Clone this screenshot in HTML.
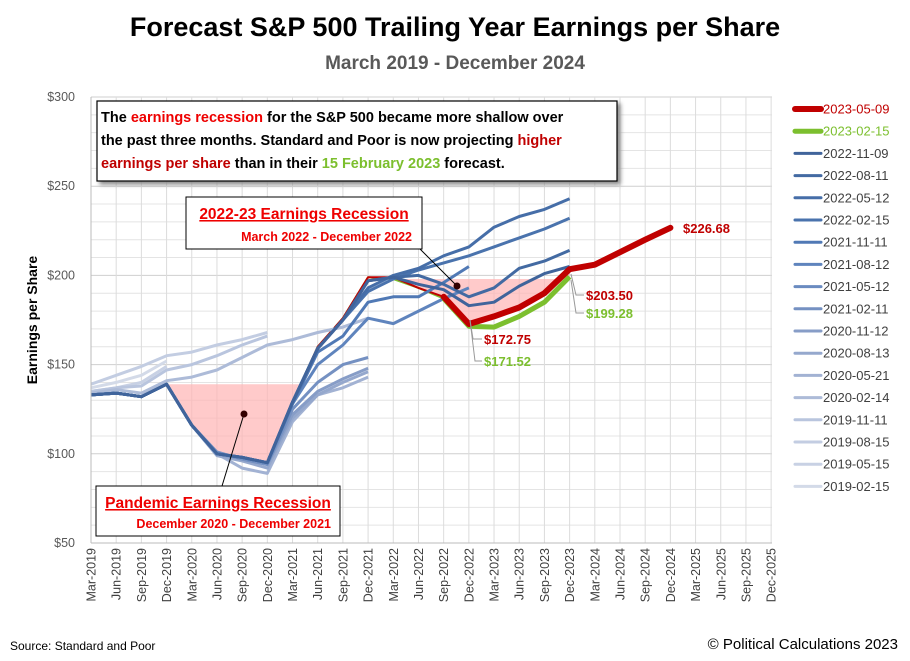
<!DOCTYPE html>
<html><head><meta charset="utf-8"><style>
body{margin:0;background:#fff;font-family:"Liberation Sans",sans-serif;}
#c{position:relative;width:910px;height:661px;overflow:hidden;background:#fff}
.t{position:absolute;white-space:nowrap}
</style></head><body><div id="c">
<div class="t" style="left:0;width:910px;top:12px;text-align:center;font-size:27px;font-weight:bold;color:#000">Forecast S&amp;P 500 Trailing Year Earnings per Share</div>
<div class="t" style="left:0;width:910px;top:53px;text-align:center;font-size:19px;font-weight:bold;color:#595959">March 2019 - December 2024</div>
<svg id="s" width="910" height="661" style="position:absolute;left:0;top:0" xmlns="http://www.w3.org/2000/svg" font-family="Liberation Sans, sans-serif">
<g id="grid"></g>
<g id="shade"></g>
<g id="ser"></g>
<g id="ax"></g>
<text x="37" y="320" font-size="14" font-weight="bold" transform="rotate(-90 37 320)" text-anchor="middle">Earnings per Share</text>
<rect x="97" y="101" width="520" height="80" fill="#fff" stroke="#000" stroke-width="1.2" style="filter:drop-shadow(3px 3px 2px #888)"/>
<text font-size="14.5" font-weight="bold" fill="#000"><tspan x="101" y="122">The <tspan fill="#e00">earnings recession</tspan> for the S&amp;P 500 became more shallow over</tspan><tspan x="101" y="145">the past three months.  Standard and Poor is now projecting <tspan fill="#c00000">higher</tspan></tspan><tspan x="101" y="168"><tspan fill="#c00000">earnings per share</tspan> than in their <tspan fill="#7cbf2e">15 February 2023</tspan> forecast.</tspan></text>
<rect x="186" y="197" width="236" height="52" fill="#fff" stroke="#000" stroke-width="1"/>
<text x="304" y="219" font-size="15.5" font-weight="bold" fill="#e00" text-anchor="middle" text-decoration="underline">2022-23 Earnings Recession</text>
<text x="412" y="241" font-size="12.5" font-weight="bold" fill="#e00" text-anchor="end">March 2022 - December 2022</text>
<rect x="96" y="486" width="244" height="50" fill="#fff" stroke="#000" stroke-width="1"/>
<text x="218" y="508" font-size="15.5" font-weight="bold" fill="#e00" text-anchor="middle" text-decoration="underline">Pandemic Earnings Recession</text>
<text x="331" y="528" font-size="12.5" font-weight="bold" fill="#e00" text-anchor="end">December 2020 - December 2021</text>
<line x1="420" y1="249" x2="457" y2="286" stroke="#000" stroke-width="1"/>
<circle cx="457" cy="286" r="3.5" fill="#300"/>
<line x1="244" y1="414" x2="222" y2="486" stroke="#000" stroke-width="1"/>
<circle cx="244" cy="414" r="3.5" fill="#300"/>
<text x="683" y="233" font-size="13" font-weight="bold" fill="#c00000">$226.68</text>
<text x="586" y="300" font-size="13" font-weight="bold" fill="#c00000">$203.50</text>
<text x="586" y="318" font-size="13" font-weight="bold" fill="#7cbf2e">$199.28</text>
<text x="484" y="344" font-size="13" font-weight="bold" fill="#c00000">$172.75</text>
<text x="484" y="366" font-size="13" font-weight="bold" fill="#7cbf2e">$171.52</text>
<polyline points="571,274 576,295 584,295" fill="none" stroke="#999"/>
<polyline points="571,280 576,313 584,313" fill="none" stroke="#999"/>
<polyline points="470,320 473,339 482,339" fill="none" stroke="#999"/>
<polyline points="470,320 475,361 482,361" fill="none" stroke="#999"/>
<g id="leg"></g>
</svg>
<div class="t" style="left:10px;top:639px;font-size:12px;color:#000">Source: Standard  and Poor</div>
<div class="t" style="right:12px;top:636px;font-size:15px;color:#000">© Political Calculations 2023</div>
</div>
<script>
var NS="http://www.w3.org/2000/svg";
function X(q){return 91+25.19*q}
function Y(v){return 97+(300-v)*1.784}
function el(p,t,a){var e=document.createElementNS(NS,t);for(var k in a)e.setAttribute(k,a[k]);document.getElementById(p).appendChild(e);return e}
for(var v=50;v<=300;v+=10){el("grid","line",{x1:91,x2:772,y1:Y(v),y2:Y(v),stroke:v%50==0?"#cfcfcf":"#e4e4e4","stroke-width":1})}
for(var q=0;q<=27;q++){el("grid","line",{x1:X(q),x2:X(q),y1:97,y2:543,stroke:"#dcdcdc","stroke-width":1})}
el("ax","line",{x1:91,x2:772,y1:543,y2:543,stroke:"#bbb"});
el("ax","line",{x1:91,x2:91,y1:97,y2:543,stroke:"#bbb"});
for(var v=50;v<=300;v+=50){var t=el("ax","text",{x:75,y:Y(v)+4,"font-size":12.5,"text-anchor":"end",fill:"#595959"});t.textContent="$"+v}
var mo=["Mar","Jun","Sep","Dec"];
for(var q=0;q<=27;q++){var yr=2019+Math.floor(q/4);var x=X(q)+4.5;var t=el("ax","text",{x:x,y:548,"font-size":12.5,"text-anchor":"end",fill:"#404040",transform:"rotate(-90 "+x+" 548)"});t.textContent=mo[q%4]+"-"+yr}
function pts(start,vals){return vals.map(function(v,i){return X(start+i).toFixed(1)+","+Y(v).toFixed(1)}).join(" ")}
el("shade","polygon",{points:X(3)+","+Y(139)+" "+X(8.3)+","+Y(139)+" "+pts(7,[95])+" "+pts(6,[98])+" "+pts(5,[100])+" "+pts(4,[116]),fill:"#ffb3b3","fill-opacity":0.7});
el("shade","polygon",{points:X(12)+","+Y(198)+" "+X(19)+","+Y(198)+" "+pts(19,[203.5])+" "+pts(18,[190])+" "+pts(17,[182])+" "+pts(16,[177])+" "+pts(15,[172.75])+" "+pts(14,[188])+" "+pts(13,[193]),fill:"#ffb3b3","fill-opacity":0.7});
var base=[133,134,132,139,116,100,98,95,129,160,176,199];
// thin red/green history underneath
el("ser","polyline",{points:pts(0,base.concat([198,193,187])),fill:"none",stroke:"#7cbf2e","stroke-width":2,"stroke-linejoin":"round"});
el("ser","polyline",{points:pts(0,base.concat([199,193,188])),fill:"none",stroke:"#c00000","stroke-width":2,"stroke-linejoin":"round"});
var S=[
["#d3dae8",0,[137,140,144,152]],
["#c8d1e4",0,[135,137,140,149]],
["#c3cde2",0,[139,144,149,155,157,161,164,168]],
["#b9c5de",0,[135,137,138,147,150,155,161,166]],
["#adbbd8",0,[134,136,134,141,143,147,154,161,164,168,171,176]],
["#a2b2d3",0,[133,134,132,139,116,100,92,89,118,133,137,143]],
["#95a8cd",0,[133,134,132,139,116,99,96,92,120,133,140,146]],
["#879dc7",0,[133,134,132,139,116,100,97,94,122,135,142,148]],
["#7591c2",0,[133,134,132,139,116,101,97,94,125,140,150,154]],
["#5f84bd",0,[133,134,132,139,116,100,98,95,128,150,161,176,173,180,187,193]],
["#5079b5",0,[133,134,132,139,116,100,98,95,128,157,166,185,188,188,196,205]],
["#4a73ad",0,[133,134,132,139,116,100,98,95,129,159,175,191,198,203,207,211,216,221,226,232]],
["#466ea8",0,[133,134,132,139,116,100,98,95,129,159,175,193,200,204,211,216,227,233,237,243]],
["#436aa2",0,[133,134,132,139,116,100,98,95,129,159,175,197,199,200,195,188,193,204,208,214]],
["#40649b",0,[133,134,132,139,116,100,98,95,129,159,175,197,199,195,192,183,185,194,201,205]],
];
S.forEach(function(s){el("ser","polyline",{points:pts(s[1],s[2]),fill:"none",stroke:s[0],"stroke-width":3,"stroke-linejoin":"round"})});
el("ser","polyline",{points:pts(14,[187,171.52,171,177,185,199.28]),fill:"none",stroke:"#7cbf2e","stroke-width":5,"stroke-linejoin":"round"});
el("ser","polyline",{points:pts(14,[188,172.75,177,182,190,203.5,206,213,220,226.68]),fill:"none",stroke:"#c00000","stroke-width":6,"stroke-linejoin":"round","stroke-linecap":"round"});
var L=[["2023-05-09","#c00000",6,"#c00000"],["2023-02-15","#7cbf2e",5,"#7cbf2e"]];
var names=["2022-11-09","2022-08-11","2022-05-12","2022-02-15","2021-11-11","2021-08-12","2021-05-12","2021-02-11","2020-11-12","2020-08-13","2020-05-21","2020-02-14","2019-11-11","2019-08-15","2019-05-15","2019-02-15"];
var cols=["#40649b","#436aa2","#466ea8","#4a73ad","#5079b5","#5f84bd","#6a8bc0","#7591c2","#879dc7","#95a8cd","#a2b2d3","#adbbd8","#b9c5de","#c3cde2","#c8d1e4","#d3dae8"];
names.forEach(function(n,i){L.push([n,cols[i],3,"#404040"])});
L.forEach(function(l,i){var y=109+i*22.2;el("leg","line",{x1:795,x2:821,y1:y,y2:y,stroke:l[1],"stroke-width":l[2],"stroke-linecap":"round"});var t=el("leg","text",{x:823,y:y+4.5,"font-size":13,fill:l[3]});t.textContent=l[0]});
</script>
</body></html>
